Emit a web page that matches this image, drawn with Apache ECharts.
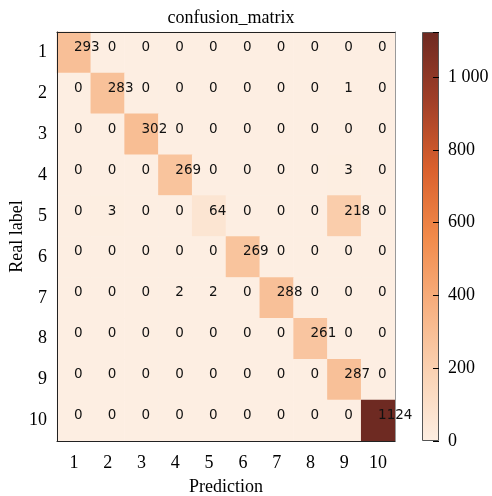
<!DOCTYPE html>
<html>
<head>
<meta charset="utf-8">
<script src="https://cdn.jsdelivr.net/npm/echarts@6/dist/echarts.min.js"></script>
<style>
  html, body { margin: 0; padding: 0; background: #fff; }
  #chart { width: 492px; height: 496px; }
</style>
</head>
<body>
<div id="chart"></div>
<script>
// data
var predLabels = ['1', '2', '3', '4', '5', '6', '7', '8', '9', '10'];
var realLabels = ['1', '2', '3', '4', '5', '6', '7', '8', '9', '10'];
var matrix = [
    [293, 0, 0, 0, 0, 0, 0, 0, 0, 0],
    [0, 283, 0, 0, 0, 0, 0, 0, 1, 0],
    [0, 0, 302, 0, 0, 0, 0, 0, 0, 0],
    [0, 0, 0, 269, 0, 0, 0, 0, 3, 0],
    [0, 3, 0, 0, 64, 0, 0, 0, 218, 0],
    [0, 0, 0, 0, 0, 269, 0, 0, 0, 0],
    [0, 0, 0, 2, 2, 0, 288, 0, 0, 0],
    [0, 0, 0, 0, 0, 0, 0, 261, 0, 0],
    [0, 0, 0, 0, 0, 0, 0, 0, 287, 0],
    [0, 0, 0, 0, 0, 0, 0, 0, 0, 1124]
];
var cbTicks = [0, 200, 400, 600, 800, 1000];

var serif = '"Liberation Serif", "Times New Roman", serif';
var cmap = ['#fdeee2', '#fad3b4', '#f7b080', '#f18a4a', '#d9602d', '#a03f28', '#6e2a22'];

var heatData = [];
var vmax = 0;
for (let i = 0; i < matrix.length; i++) {
    for (let j = 0; j < matrix[i].length; j++) {
        heatData.push([j, i, matrix[i][j]]);
        if (matrix[i][j] > vmax) vmax = matrix[i][j];
    }
}
// colour bar uses the same colours as the visualMap
var stops = cmap.map(function (c, k) {
    return { offset: k / (cmap.length - 1), color: c };
});

var chart = echarts.init(document.getElementById('chart'));
var option = {
    animation: false,
    title: {
        text: 'confusion_matrix',
        left: 226,
        top: 4,
        textAlign: 'center',
        textStyle: { fontFamily: serif, fontSize: 18, fontWeight: 'normal', color: '#000' }
    },
    grid: [
        { left: 57, top: 32, width: 338, height: 409, containLabel: false, outerBoundsMode: 'none' },
        { left: 422, top: 32, width: 17, height: 409, containLabel: false, outerBoundsMode: 'none' }
    ],
    xAxis: [
        {
            type: 'category', data: predLabels, gridIndex: 0, z: 5,
            name: 'Prediction', nameLocation: 'middle', nameGap: 37, nameMoveOverlap: false,
            nameTextStyle: { fontFamily: serif, fontSize: 18, color: '#000' },
            axisLine: { lineStyle: { color: '#222', width: 1 } },
            axisTick: { inside: true, alignWithLabel: true, length: 6, lineStyle: { color: '#000' } },
            axisLabel: { fontFamily: serif, fontSize: 18, color: '#000', margin: 13 },
            splitLine: { show: false }
        },
        {
            type: 'category', data: predLabels, gridIndex: 0, position: 'top', z: 5,
            axisLine: { lineStyle: { color: '#222', width: 1 } },
            axisTick: { show: false }, axisLabel: { show: false }
        },
        {
            type: 'category', data: [''], gridIndex: 1,
            axisLine: { show: false }, axisTick: { show: false }, axisLabel: { show: false }
        }
    ],
    yAxis: [
        {
            type: 'category', data: realLabels, gridIndex: 0, inverse: true, z: 5,
            name: 'Real label', nameLocation: 'middle', nameGap: 31, nameMoveOverlap: false,
            nameTextStyle: { fontFamily: serif, fontSize: 18, color: '#000' },
            axisLine: { lineStyle: { color: '#222', width: 1 } },
            axisTick: { inside: true, alignWithLabel: true, length: 6, lineStyle: { color: '#000' } },
            axisLabel: { fontFamily: serif, fontSize: 18, color: '#000', margin: 10 },
            splitLine: { show: false }
        },
        {
            type: 'category', data: realLabels, gridIndex: 0, position: 'right', inverse: true, z: 5,
            axisLine: { lineStyle: { color: '#999', width: 1 } },
            axisTick: { show: false }, axisLabel: { show: false }
        },
        {
            type: 'value', gridIndex: 1, position: 'right', z: 5,
            min: 0, max: vmax, interval: 200,
            axisLine: { show: false },
            axisTick: { show: true, inside: true, length: 6, lineStyle: { color: '#000' } },
            axisLabel: {
                fontFamily: serif, fontSize: 18, color: '#000', margin: 9,
                formatter: function (v) {
                    return cbTicks.indexOf(v) >= 0 ? String(v).replace(/\B(?=(\d{3})+(?!\d))/g, ' ') : '';
                }
            },
            splitLine: { show: false }
        }
    ],
    visualMap: {
        show: false,
        type: 'continuous',
        seriesIndex: 0,
        min: 0,
        max: vmax,
        inRange: { color: cmap }
    },
    series: [
        {
            type: 'heatmap',
            xAxisIndex: 0, yAxisIndex: 0,
            data: heatData,
            label: {
                show: true,
                position: 'inside',
                align: 'left',
                verticalAlign: 'bottom',
                offset: [0, 2],
                fontFamily: '"DejaVu Sans", sans-serif',
                fontSize: 13.5,
                color: '#111',
                formatter: function (p) { return p.value[2]; }
            },
            emphasis: { disabled: true }
        },
        {
            type: 'bar',
            xAxisIndex: 2, yAxisIndex: 2,
            data: [vmax],
            barWidth: '100%',
            itemStyle: {
                color: new echarts.graphic.LinearGradient(0, 1, 0, 0, stops),
                borderColor: '#555',
                borderWidth: 1
            },
            silent: true
        }
    ]
};
chart.setOption(option);
</script>
</body>
</html>
